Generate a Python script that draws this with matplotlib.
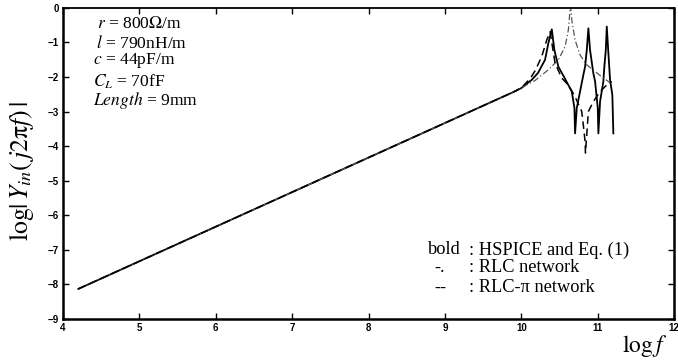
import matplotlib
matplotlib.use("Agg")
import matplotlib.pyplot as plt

plt.rcParams['mathtext.fontset'] = 'stix'

# HSPICE and Eq. (1) (solid)
hs_x = [4.2, 9.9, 10.0, 10.137, 10.219, 10.311, 10.354, 10.399, 10.433, 10.485,
        10.56, 10.661, 10.695, 10.704, 10.726, 10.769, 10.812, 10.835, 10.857,
        10.878, 10.900, 10.943, 10.966, 11.001, 11.009, 11.031, 11.074, 11.087,
        11.106, 11.119, 11.140, 11.162, 11.192, 11.205]
hs_y = [-8.13, -2.43, -2.32, -2.08, -1.88, -1.50, -1.02, -0.62, -1.22, -1.70,
        -2.00, -2.42, -2.89, -3.63, -2.90, -2.42, -1.94, -1.70, -1.22,
        -0.59, -1.22, -1.89, -2.13, -2.90, -3.63, -2.71, -2.13, -1.70,
        -1.22, -0.54, -1.31, -2.08, -2.52, -3.63]

# RLC network (dash-dot)
rlc_x = [4.2, 9.9, 10.0, 10.180, 10.354, 10.485, 10.573, 10.616, 10.638, 10.645,
         10.661, 10.704, 10.769, 10.857, 10.966, 11.074, 11.162, 11.19]
rlc_y = [-8.13, -2.43, -2.31, -2.10, -1.79, -1.50, -1.12, -0.64, -0.06, 0.05,
         -0.35, -0.93, -1.36, -1.65, -1.84, -2.03, -2.16, -2.17]

# RLC-pi network (dashed)
pi_x = [4.2, 9.9, 10.0, 10.115, 10.180, 10.267, 10.333, 10.377, 10.442, 10.529,
        10.616, 10.704, 10.791, 10.812, 10.835, 10.840, 10.878, 10.943, 11.031,
        11.119, 11.184]
pi_y = [-8.13, -2.43, -2.31, -2.05, -1.82, -1.41, -0.93, -0.69, -1.60, -2.03,
        -2.23, -2.57, -3.00, -3.39, -3.87, -4.20, -3.00, -2.71, -2.42,
        -2.23, -2.13]

xticks = [4, 5, 6, 7, 8, 9, 10, 11, 12]
yticks = [0, -1, -2, -3, -4, -5, -6, -7, -8, -9]

params = [r'$r$ = 800$\Omega$/m', r'$l$ = 790nH/m', r'$c$ = 44pF/m',
          r'$C_L$ = 70fF', r'$Length$ = 9mm']
legend_marks = ['bold', '-.', '--']
legend_texts = [': HSPICE and Eq. (1)', ': RLC network', ': RLC-\u03c0 network']

fig = plt.figure(figsize=(6.78, 3.6), dpi=100)
ax = fig.add_axes([0.093, 0.114, 0.9012, 0.864])

ax.plot(hs_x, hs_y, color='black', lw=1.3, ls='-')
ax.plot(rlc_x, rlc_y, color='#555555', lw=0.9, ls='-.', dashes=(5, 2, 1, 2))
ax.plot(pi_x, pi_y, color='black', lw=1.1, ls='--', dashes=(5, 3))

ax.set_xlim(4, 12)
ax.set_ylim(-9, 0)
ax.set_xticks(xticks)
ax.set_yticks(yticks)
ax.set_xticklabels([str(v) for v in xticks])
ax.set_yticklabels([str(v).replace('-', '\u2212') for v in yticks])
ax.tick_params(direction='in', top=True, right=True, length=4, width=1,
               labelsize=7, pad=3)
for lab in ax.get_xticklabels() + ax.get_yticklabels():
    lab.set_family('Liberation Sans')
    lab.set_fontweight('bold')
for s in ax.spines.values():
    s.set_linewidth(1.8)
ax.spines['top'].set_linewidth(1.3)

ax.set_ylabel(r'$\log|\,Y_{in}(\,j2\mathrm{\pi} f)\,|$', fontsize=18.5)
ax.yaxis.set_label_coords(-0.045, 0.476)
fig.text(0.950, 0.040, r'$\log f$', fontsize=17, ha='center', va='center')

ty = [0.051, 0.113, 0.170, 0.236, 0.298]
tx = [0.056, 0.054, 0.049, 0.049, 0.049]
for t, x0, y0 in zip(params, tx, ty):
    ax.text(x0, 1 - y0, t, transform=ax.transAxes, fontsize=12.6,
            family='Liberation Serif', ha='left', va='center')

ly = [0.222, 0.164, 0.100]
mx = [0.598, 0.607, 0.607]
cx = [0.664, 0.664, 0.664]
for m, t, x0, x1, y0 in zip(legend_marks, legend_texts, mx, cx, ly):
    ax.text(x0, y0, m, transform=ax.transAxes, fontsize=13.2,
            family='Liberation Serif', ha='left', va='center')
    ax.text(x1, y0, t, transform=ax.transAxes, fontsize=13.2,
            family='Liberation Serif', ha='left', va='center')

fig.savefig('out.png', dpi=100)
